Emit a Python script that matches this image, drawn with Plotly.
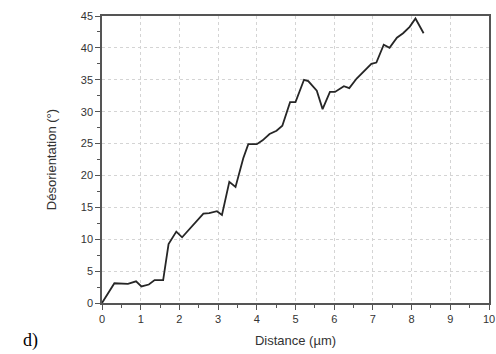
import plotly.graph_objects as go

distance_um = [0, 0.32, 0.67, 0.88, 1.02, 1.21, 1.36, 1.58, 1.72, 1.92, 2.07, 2.32, 2.62, 2.77,
               2.97, 3.1, 3.29, 3.45, 3.65, 3.78, 4.0, 4.15, 4.33, 4.51, 4.66, 4.86, 5.0, 5.22,
               5.33, 5.55, 5.7, 5.89, 6.02, 6.25, 6.39, 6.58, 6.79, 6.96, 7.09, 7.28, 7.43,
               7.62, 7.78, 7.95, 8.1, 8.31]
desorientation_deg = [0, 3.1, 3.0, 3.4, 2.6, 2.9, 3.6, 3.6, 9.25, 11.2, 10.3, 12.0, 14.0, 14.1,
                      14.4, 13.8, 19.0, 18.2, 22.7, 24.9, 24.9, 25.5, 26.5, 27.0, 27.8, 31.5, 31.5,
                      35.0, 34.8, 33.3, 30.4, 33.1, 33.1, 34.0, 33.7, 35.2, 36.5, 37.5, 37.7, 40.5,
                      40.0, 41.6, 42.3, 43.3, 44.6, 42.3]

x_ticks = list(range(0, 11))
y_ticks = list(range(0, 46, 5))

fig = go.Figure()
fig.add_trace(go.Scatter(x=distance_um, y=desorientation_deg, mode="lines",
                         line=dict(color="#262626", width=1.8), showlegend=False))

axis_common = dict(
    showline=True, linecolor="#555555", linewidth=1.5, mirror=True,
    ticks="outside", ticklen=5, tickwidth=1.2, tickcolor="#555555",
    showgrid=True, gridcolor="#d4d4d4", griddash="dot", gridwidth=1,
    zeroline=False,
    tickfont=dict(family="Liberation Sans, Arial, sans-serif", size=11, color="#333333"),
)

fig.update_xaxes(range=[0, 10], tickvals=x_ticks, ticktext=[str(v) for v in x_ticks],
                 minor=dict(ticks="outside", ticklen=3, dtick=0.5, tickcolor="#555555", showgrid=False),
                 title=dict(text="Distance (µm)", standoff=12,
                            font=dict(family="Liberation Sans, Arial, sans-serif", size=13, color="#333333")),
                 **axis_common)
fig.update_yaxes(range=[0, 45], tickvals=y_ticks, ticktext=[str(v) for v in y_ticks],
                 minor=dict(ticks="outside", ticklen=3, dtick=2.5, tickcolor="#555555", showgrid=False),
                 title=dict(text="Désorientation (°)", standoff=21,
                            font=dict(family="Liberation Sans, Arial, sans-serif", size=13, color="#333333")),
                 **axis_common)

fig.add_annotation(text="d)", xref="paper", yref="paper", x=-0.21, y=-0.132,
                   xanchor="left", yanchor="middle", showarrow=False,
                   font=dict(family="Liberation Serif, Times New Roman, serif", size=18, color="#000000"))

fig.update_layout(
    width=496, height=354,
    margin=dict(l=101.5, r=6.5, t=16, b=51, autoexpand=False),
    paper_bgcolor="white", plot_bgcolor="white",
)

fig.write_html("out.html", config={"displayModeBar": False},
               post_script="document.body.style.margin='0';document.body.style.overflow='hidden';")
